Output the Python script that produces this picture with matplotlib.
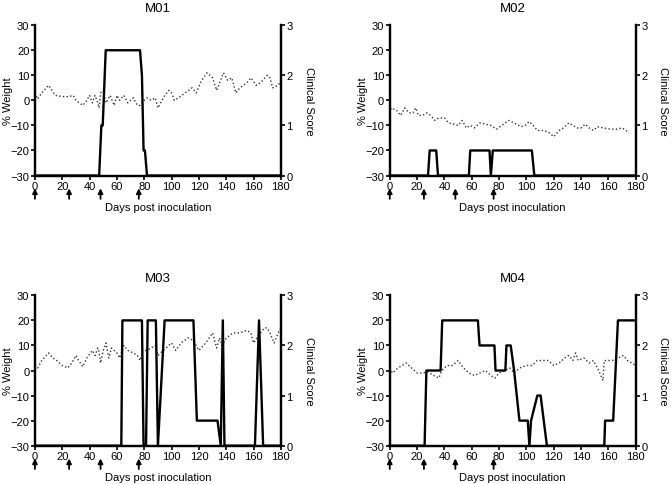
import matplotlib
matplotlib.use("Agg")
import matplotlib.pyplot as plt

plt.rcParams['font.family'] = ['Liberation Sans', 'DejaVu Sans']

# inoculation days (arrows)
arrow_days = [0, 25, 48, 76]

# M01
m01_w_days = [0, 2, 5, 10, 15, 20, 25, 28, 30, 35, 38, 40, 42, 44, 46, 47, 48, 50, 52, 55, 58, 60, 62, 65,
              68, 72, 75, 77, 80, 82, 85, 88, 90, 95, 98, 100, 102, 105, 110, 115, 118, 122, 126, 130, 133,
              138, 141, 144, 147, 150, 155, 158, 162, 165, 170, 172, 174, 178, 180]
m01_w = [3, 0.5, 3, 6, 2, 1.5, 1.5, 2, 0, -2, 0, 2, -1, 2, -1, -3, 3, 4, -1, 2, -2, 2, 0, 2,
         -1, 1, -2, -2, 0, 1, 0, 1, -3, 2, 4, 3, 0, 1, 3, 5, 3, 8, 11, 9, 4,
         11, 8, 9, 3, 5, 7, 9, 6, 7, 10, 9, 5, 6, 8]
m01_s_days = [0, 47, 48.6, 49.6, 51.8, 76.9, 78.3, 79.5, 80.5, 82, 180]
m01_s = [0, 0, 1, 1, 2.5, 2.5, 2, 0.5, 0.5, 0, 0]

# M02
m02_w_days = [0, 1, 5, 8, 11, 14, 17, 19, 21, 24, 27, 30, 33, 36, 40, 43, 47, 50, 53, 56, 59, 62, 66, 70,
              74, 78, 82, 87, 91, 96, 99, 102, 105, 108, 113, 117, 120, 124, 127, 131, 134, 137, 140, 143,
              146, 149, 152, 156, 162, 166, 170, 173, 175]
m02_w = [-5, -3, -4, -6, -3, -5, -5, -3, -6, -6, -5, -6, -8, -7, -7, -9, -9.5, -10, -8, -11, -10, -11, -9, -9.5,
         -10, -11.5, -10, -8, -9, -10.5, -10, -8.5, -10, -12, -12, -13, -14.5, -12, -11, -9, -10, -11, -11, -9.5,
         -11, -12, -10.5, -11, -11.5, -11.5, -11, -12, -13]
m02_s_days = [0, 28, 29.2, 34, 35.3, 57.9, 58.9, 73, 74, 75.4, 104, 105.8, 180]
m02_s = [0, 0, 0.5, 0.5, 0, 0, 0.5, 0.5, 0, 0.5, 0.5, 0, 0]

# M03
m03_w_days = [0, 2, 5, 10, 13, 16, 20, 24, 27, 30, 32, 35, 38, 42, 44, 46, 47, 48, 50, 52, 54, 56, 60, 62,
              65, 68, 72, 75, 77, 79, 82, 85, 88, 90, 94, 98, 100, 103, 107, 112, 116, 120, 125, 130, 133,
              135, 137, 140, 145, 150, 155, 158, 160, 165, 168, 170, 172, 175, 178, 180]
m03_w = [2, 1, 4, 7, 5, 4, 2, 1, 3, 6, 4, 1.5, 5, 8, 6, 9, 7, 3, 8, 11, 5, 9, 7, 5,
         10, 8, 7, 6, 4, 8, 8, 9, 10, 6, 8, 10, 11, 8, 11, 13, 12, 8, 11, 15, 9,
         13, 10, 13, 15, 15, 16, 15, 11, 15, 17, 17, 15, 11, 15, 17]
m03_s_days = [0, 63.2, 64, 78.3, 79.5, 81.3, 82.5, 88.5, 90, 94.9, 116, 118.5, 133.6, 136, 137.5, 138.7,
              161, 164, 167, 180]
m03_s = [0, 0, 2.5, 2.5, 0, 0, 2.5, 2.5, 0, 2.5, 2.5, 0.5, 0.5, 0, 2.5, 0,
         0, 2.5, 0, 0]

# M04
m04_w_days = [0, 2, 6, 12, 16, 20, 24, 28, 32, 36, 38, 42, 46, 50, 54, 58, 62, 66, 70, 74, 77, 80, 84, 88,
              91, 95, 100, 104, 108, 112, 116, 120, 124, 128, 131, 134, 136, 138, 142, 146, 149, 153, 156,
              157, 160, 163, 167, 171, 174, 177, 180]
m04_w = [1, -1, 1, 3, 1, -1, -1, -0.5, -2, -3, 0, 2, 2, 4, 1, -1, -2, -1, 0, -2, -3, -1, 0, 1,
         -1, 1, 2, 2, 4, 4, 4, 2, 3, 5, 6, 4, 7, 4, 5, 3, 4, 0, -4,
         4, 4, 4, 5, 6, 4, 3, 2]
m04_s_days = [0, 25.5, 26.8, 37.2, 38.4, 64.5, 65.7, 76.6, 77.4, 84.6, 85.4, 88.5, 91, 94.9, 101, 102.2,
              103.4, 108, 110.4, 115, 157, 157.6, 163.5, 167, 180]
m04_s = [0, 0, 1.5, 1.5, 2.5, 2.5, 2, 2, 1.5, 1.5, 2, 2, 1.5, 0.5, 0.5, 0,
         0.5, 1, 1, 0, 0, 0.5, 0.5, 2.5, 2.5]

panels = [
    ("M01", m01_w_days, m01_w, m01_s_days, m01_s),
    ("M02", m02_w_days, m02_w, m02_s_days, m02_s),
    ("M03", m03_w_days, m03_w, m03_s_days, m03_s),
    ("M04", m04_w_days, m04_w, m04_s_days, m04_s),
]

positions = [
    [0.052, 0.636, 0.366, 0.310],
    [0.580, 0.636, 0.366, 0.310],
    [0.052, 0.079, 0.366, 0.310],
    [0.580, 0.079, 0.366, 0.310],
]

fig = plt.figure(figsize=(6.72, 4.85), dpi=100)

for (title, wd, w, sd, s), pos in zip(panels, positions):
    ax = fig.add_axes(pos)
    ax2 = ax.twinx()

    ax.plot(wd, w, color='#333333', linestyle=':', linewidth=1.0)
    ax2.plot(sd, s, color='black', linewidth=1.7, clip_on=False, zorder=5)

    ax.set_xlim(0, 180)
    ax.set_ylim(-30, 30)
    ax2.set_ylim(0, 3)
    ax.set_xticks(range(0, 181, 20))
    ax.set_yticks(range(-30, 31, 10))
    ax2.set_yticks([0, 1, 2, 3])

    for a in (ax, ax2):
        a.spines['top'].set_visible(False)
        for sp in ('left', 'right', 'bottom'):
            a.spines[sp].set_linewidth(1.6)
        a.tick_params(axis='both', direction='out', width=1.2, length=3,
                      labelsize=8, pad=1)

    ax.set_title(title, fontsize=9.5, pad=10)
    ax.set_ylabel('% Weight', fontsize=8)
    ax.yaxis.set_label_coords(-0.088, 0.5)
    ax2.set_ylabel('Clinical Score', fontsize=8, rotation=270, labelpad=15)
    ax.set_xlabel('Days post inoculation', fontsize=8, labelpad=8)

    for d in arrow_days:
        ax.annotate('', xy=(d, -0.085), xytext=(d, -0.155),
                    xycoords=('data', 'axes fraction'),
                    textcoords=('data', 'axes fraction'),
                    arrowprops=dict(arrowstyle='-|>', color='black', lw=1.3,
                                    mutation_scale=7, shrinkA=0, shrinkB=0),
                    annotation_clip=False)

fig.savefig('out.png', dpi=100)
